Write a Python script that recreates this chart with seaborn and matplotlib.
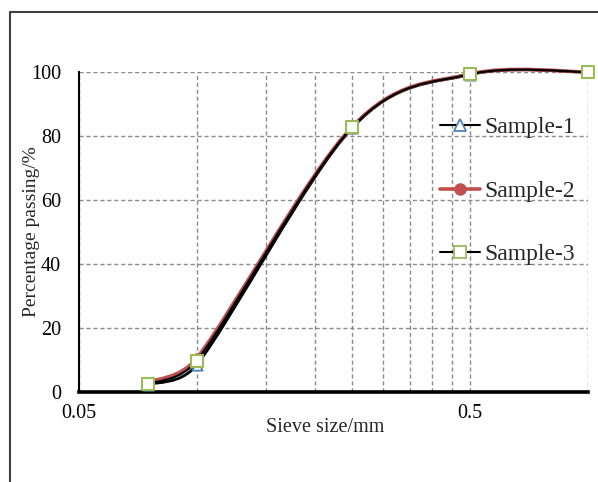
import numpy as np
import seaborn as sns
import matplotlib.pyplot as plt
from matplotlib.path import Path
from matplotlib.patches import PathPatch
from matplotlib.lines import Line2D
from matplotlib.ticker import FixedLocator, FixedFormatter, NullFormatter

# sieve sizes (mm) and percentage passing
sieve = [0.075, 0.1, 0.25, 0.5, 1.0]
sample1 = [2.3, 8.5, 82.6, 99.2, 100.0]
sample2 = [3.0, 10.6, 83.0, 99.4, 100.0]
sample3 = [2.4, 9.8, 82.8, 99.3, 100.0]
names = ["Sample-1", "Sample-2", "Sample-3"]

x_ticks = [0.05, 0.5]
x_ticklabels = ["0.05", "0.5"]
x_minor = [0.1, 0.15, 0.2, 0.25, 0.3, 0.35, 0.4, 0.45, 1.0]
y_ticks = [0, 20, 40, 60, 80, 100]

sns.set_style("white")
plt.rcParams['font.family'] = ['Liberation Serif', 'DejaVu Serif']

fig = plt.figure(figsize=(5.98, 4.82), dpi=100)
ax = fig.add_axes([79 / 598, 90 / 482, 509 / 598, 320 / 482])
ax.set_xscale('log')
ax.set_xlim(0.05, 1.0)
ax.set_ylim(0, 100)


def smooth_path(ax, x, y):
    # excel-like smoothed line: bezier segments built in screen space
    pts = ax.transData.transform(np.column_stack([x, y]))
    n = len(pts)
    verts = [pts[0]]
    codes = [Path.MOVETO]
    for i in range(n - 1):
        p0 = pts[max(i - 1, 0)]
        p1 = pts[i]
        p2 = pts[i + 1]
        p3 = pts[min(i + 2, n - 1)]
        half = np.hypot(*(p2 - p1)) / 2
        t1 = (p2 - p0) / 6
        t2 = (p3 - p1) / 6
        l1 = np.hypot(*t1)
        l2 = np.hypot(*t2)
        if l1 > half:
            t1 = t1 * half / l1
        if l2 > half:
            t2 = t2 * half / l2
        verts += [p1 + t1, p2 - t2, p2]
        codes += [Path.CURVE4] * 3
    verts = ax.transData.inverted().transform(np.array(verts))
    return Path(verts, codes)


# sample-1
ax.add_patch(PathPatch(smooth_path(ax, sieve, sample1), fill=False, edgecolor='black', lw=2.0,
                       zorder=3, clip_on=False))
sns.scatterplot(x=sieve, y=sample1, marker='^', s=55, color='white', edgecolor='#4F81BD',
                linewidth=1.3, ax=ax, zorder=4, clip_on=False)
# sample-2
ax.add_patch(PathPatch(smooth_path(ax, sieve, sample2), fill=False, edgecolor='#C0504D', lw=2.6,
                       zorder=5, clip_on=False))
sns.scatterplot(x=sieve, y=sample2, marker='o', s=45, color='#C0504D', edgecolor='#C0504D',
                linewidth=1.0, ax=ax, zorder=6, clip_on=False)
# sample-3
ax.add_patch(PathPatch(smooth_path(ax, sieve, sample3), fill=False, edgecolor='black', lw=1.6,
                       zorder=7, clip_on=False))
sns.scatterplot(x=sieve, y=sample3, marker='s', s=85, color='white', edgecolor='#9BBB59',
                linewidth=1.5, ax=ax, zorder=8, clip_on=False)

# ticks and grid
ax.xaxis.set_major_locator(FixedLocator(x_ticks))
ax.xaxis.set_major_formatter(FixedFormatter(x_ticklabels))
ax.xaxis.set_minor_locator(FixedLocator(x_minor))
ax.xaxis.set_minor_formatter(NullFormatter())
ax.set_yticks(y_ticks)
ax.tick_params(axis='both', which='both', length=0, labelsize=14.5, colors='black')
ax.tick_params(axis='x', pad=9)
ax.tick_params(axis='y', pad=13)

grid_kw = dict(color='#8c8c8c', linestyle=(0, (3, 2)), linewidth=1.0)
ax.grid(which='both', axis='x', **grid_kw)
ax.grid(which='major', axis='y', **grid_kw)
ax.set_axisbelow(True)

for s in ['top', 'right']:
    ax.spines[s].set_visible(False)
ax.spines['left'].set_color('black')
ax.spines['left'].set_linewidth(1.5)
ax.spines['bottom'].set_color('black')
ax.spines['bottom'].set_linewidth(2.6)

ax.set_ylabel("Percentage passing/%", fontsize=14)
ax.yaxis.set_label_coords(-0.077, 0.5)
ax.set_xlabel("Sieve size/mm", fontsize=14.5)
ax.xaxis.set_label_coords(0.483, -0.081)

# legend
handles = [
    Line2D([], [], color='black', lw=1.5, marker='^', ms=8, mfc='white', mec='#4F81BD', mew=1.3),
    Line2D([], [], color='#C0504D', lw=2.6, marker='o', ms=8, mfc='#C0504D', mec='#C0504D'),
    Line2D([], [], color='black', lw=1.5, marker='s', ms=8, mfc='white', mec='#9BBB59', mew=1.3),
]
ax.legend(handles, names, loc='center left', bbox_to_anchor=(0.709, 0.628), frameon=False,
          fontsize=17, handlelength=1.7, handletextpad=0.2, labelspacing=1.77,
          borderpad=0, borderaxespad=0)

# outer chart border (cut by the crop)
fig.add_artist(Line2D([10 / 598, 1], [1 - 12 / 482, 1 - 12 / 482], transform=fig.transFigure,
                      color='#404040', lw=1.5))
fig.add_artist(Line2D([10 / 598, 10 / 598], [0, 1 - 12 / 482], transform=fig.transFigure,
                      color='#404040', lw=1.5))

fig.savefig("out.png", dpi=100)
